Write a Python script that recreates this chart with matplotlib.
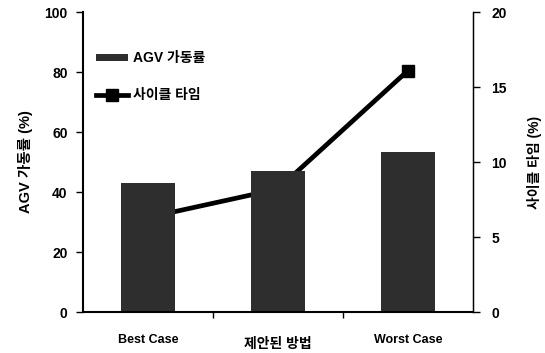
import matplotlib
matplotlib.use("Agg")
import matplotlib.pyplot as plt
import numpy as np

categories = ["Best Case", "제안된 방법", "Worst Case"]
agv_util = [43, 47, 53.2]
cycle_time = [6.3, 8.2, 16.1]
left_ticks = [0, 20, 40, 60, 80, 100]
right_ticks = [0, 5, 10, 15, 20]

FAM = ["Liberation Sans", "Noto Sans CJK KR", "DejaVu Sans"]
plt.rcParams['font.family'] = FAM
plt.rcParams['font.weight'] = 'bold'

fig = plt.figure(figsize=(5.45, 3.53), dpi=100)
ax = fig.add_axes([0.152, 0.116, 0.716, 0.85])
ax2 = ax.twinx()

x = np.arange(len(categories))
bars = ax.bar(x, agv_util, width=0.41, color="#2e2e2e", label="AGV 가동률", zorder=2)
line, = ax2.plot(x, cycle_time, color="black", lw=3.4, marker="s", markersize=8,
                 label="사이클 타임", zorder=1)

ax.set_xlim(-0.5, 2.5)
ax.set_ylim(0, 100)
ax2.set_ylim(0, 20)
ax.set_yticks(left_ticks)
ax2.set_yticks(right_ticks)
ax.set_xticks(x)
ax.set_xticklabels(categories, fontsize=9, fontweight='bold')
for lbl in ax.get_xticklabels():
    if lbl.get_text() == "제안된 방법":
        lbl.set_fontsize(10)
        lbl.set_y(-0.01)
ax.set_xticks([0.5, 1.5], minor=True)
ax.tick_params(axis='x', which='major', length=0, pad=16)
ax.tick_params(axis='x', which='minor', length=4, direction='out', width=1)
ax.tick_params(axis='y', length=5, width=1, direction='out', labelsize=10, pad=6)
ax2.tick_params(axis='y', length=5, width=1, direction='out', labelsize=10, pad=8)
for lbl in ax.get_yticklabels() + ax2.get_yticklabels():
    lbl.set_fontweight('bold')

ax.set_ylabel("AGV 가동률 (%)", fontsize=10.5, fontweight='bold', labelpad=8)
ax2.set_ylabel("사이클 타임 (%)", fontsize=10, fontweight='bold', rotation=90, labelpad=15)

for a in (ax, ax2):
    a.spines['top'].set_visible(False)
ax.spines['left'].set_linewidth(1.5)
ax.spines['bottom'].set_linewidth(1.5)
ax2.spines['right'].set_linewidth(1.0)
ax2.spines['left'].set_visible(False)
ax2.spines['bottom'].set_visible(False)

ax.set_zorder(ax2.get_zorder() + 1)
ax.patch.set_visible(False)

leg = ax.legend([bars, line], ["AGV 가동률", "사이클 타임"], loc='upper left',
                bbox_to_anchor=(0.035, 0.87), frameon=False, borderpad=0, borderaxespad=0,
                handlelength=2.3, handleheight=0.4, handletextpad=0.3, labelspacing=1.65,
                prop={'size': 10, 'weight': 'bold', 'family': FAM})

fig.savefig("out.png", dpi=100)
